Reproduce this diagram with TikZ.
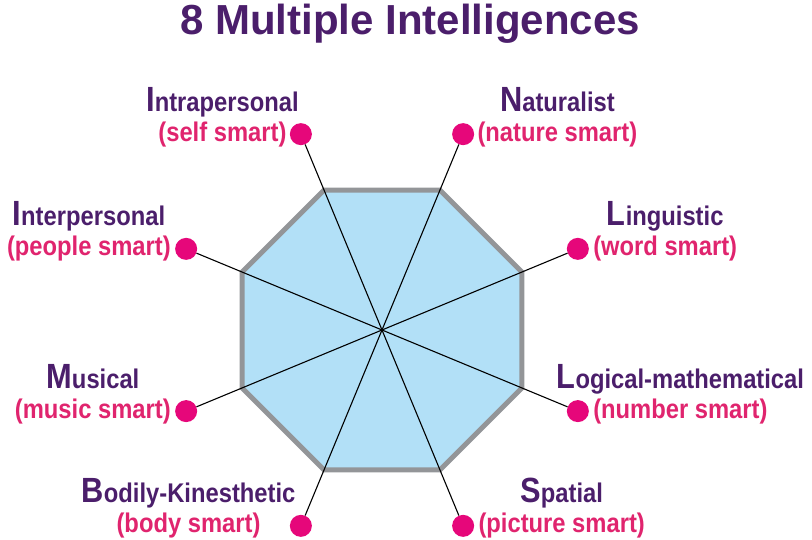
\documentclass[tikz,border=0pt]{standalone}
\usepackage{fontspec}
\setmainfont{Liberation Sans}
\newfontfamily\lblfont{Liberation Sans}[FakeStretch=0.88]
\usetikzlibrary{positioning,shapes.geometric}
\definecolor{mipurple}{HTML}{4B1E6B}
\definecolor{mipink}{HTML}{E0246E}
\definecolor{midot}{HTML}{E6077A}
\definecolor{miblue}{HTML}{B2E0F7}
\definecolor{migray}{HTML}{939598}
\newcommand{\bigini}[1]{{\fontsize{35}{35}\selectfont #1}}

\begin{document}
\begin{tikzpicture}[x=1pt,y=1pt]
\tikzset{
    octa/.style={%
        draw=migray, line width=5pt,
        fill=miblue,
        regular polygon,
        regular polygon sides=8,
        minimum size=303pt,
        inner sep=0pt
        },
    spoke/.style={draw=black, line width=1.1pt},
    mdot/.style={circle, fill=midot, minimum size=22pt, inner sep=0pt},
    subl/.style={%
        text=mipink, inner sep=1pt,
        font=\lblfont\bfseries\fontsize{27}{30}\selectfont
        },
    headl/.style={%
        text=mipurple, inner sep=0pt, anchor=base,
        font=\lblfont\bfseries\fontsize{27}{30}\selectfont
        },
}
\useasboundingbox (0,0) rectangle (812,540);
%%%TITLE
\node[text=mipurple, font=\bfseries\fontsize{42}{42}\selectfont, anchor=base] (title) at (410,505) {8 Multiple Intelligences};
%%%OCTAGON
\node[octa] (oct) at (382,210) {};
%%%DOTS
\node[mdot] (dNat)   at ([shift={(67.5:212)}]oct.center) {};
\node[mdot] (dLing)  at ([shift={(22.5:212)}]oct.center) {};
\node[mdot] (dLog)   at ([shift={(-22.5:212)}]oct.center) {};
\node[mdot] (dSpat)  at ([shift={(-67.5:212)}]oct.center) {};
\node[mdot] (dBod)   at ([shift={(-112.5:212)}]oct.center) {};
\node[mdot] (dMus)   at ([shift={(-157.5:212)}]oct.center) {};
\node[mdot] (dInter) at ([shift={(157.5:212)}]oct.center) {};
\node[mdot] (dIntra) at ([shift={(112.5:212)}]oct.center) {};
%%%SPOKES
\foreach \d in {dNat,dLing,dLog,dSpat,dBod,dMus,dInter,dIntra}
    \draw[spoke] (oct.center) -- (\d);
%%%LABELS
\node[subl, left=2pt of dIntra] (sIntra) {(self smart)};
\node[headl] (hIntra) at ([yshift=30pt]sIntra.base) {\bigini{I}ntrapersonal};
\node[subl, right=2pt of dNat] (sNat) {(nature smart)};
\node[headl] (hNat) at ([yshift=30pt]sNat.base) {\bigini{N}aturalist};
\node[subl, right=3pt of dLing] (sLing) {(word smart)};
\node[headl] (hLing) at ([yshift=30pt]sLing.base) {\bigini{L}inguistic};
\node[subl, right=3pt of dLog] (sLog) {(number smart)};
\node[headl] (hLog) at ([yshift=30pt]sLog.base) {\bigini{L}ogical-mathematical};
\node[subl, right=3pt of dSpat] (sSpat) {(picture smart)};
\node[headl] (hSpat) at ([yshift=30pt]sSpat.base) {\bigini{S}patial};
\node[subl, left=28pt of dBod] (sBod) {(body smart)};
\node[headl] (hBod) at ([yshift=30pt]sBod.base) {\bigini{B}odily-Kinesthetic};
\node[subl, left=3pt of dMus] (sMus) {(music smart)};
\node[headl] (hMus) at ([yshift=30pt]sMus.base) {\bigini{M}usical};
\node[subl, left=3pt of dInter] (sInter) {(people smart)};
\node[headl] (hInter) at ([yshift=30pt]sInter.base) {\bigini{I}nterpersonal};
\end{tikzpicture}
\end{document}
